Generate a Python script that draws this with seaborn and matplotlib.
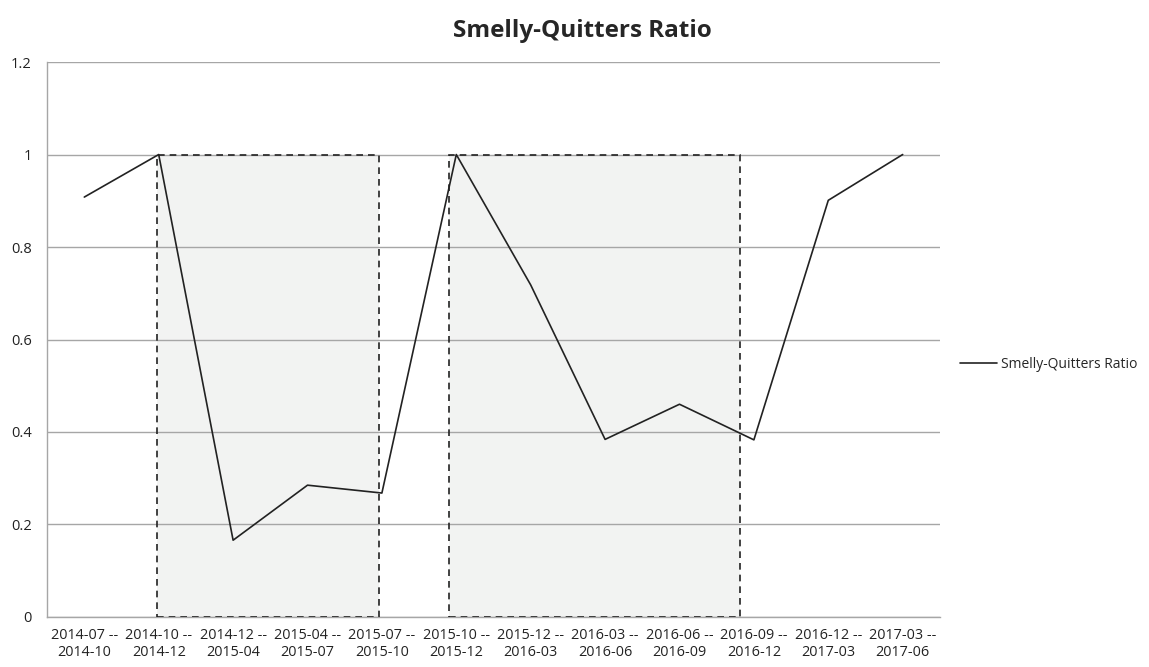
"""Smelly-Quitters ratio line chart."""

import matplotlib.pyplot as plt
import matplotlib.patches as mpatches
import numpy as np
import pandas as pd
import seaborn as sns

periods = [
    "2014-07 --\n2014-10", "2014-10 --\n2014-12", "2014-12 --\n2015-04",
    "2015-04 --\n2015-07", "2015-07 --\n2015-10", "2015-10 --\n2015-12",
    "2015-12 --\n2016-03", "2016-03 --\n2016-06", "2016-06 --\n2016-09",
    "2016-09 --\n2016-12", "2016-12 --\n2017-03", "2017-03 --\n2017-06",
]
ratio = [0.908, 1.0, 0.166, 0.285, 0.268, 1.0, 0.718, 0.384, 0.46, 0.383, 0.901, 1.0]
# highlighted windows, in category units
highlights = [(0.98, 3.96), (4.9, 8.82)]

sns.set_theme(style="white")
plt.rcParams["font.family"] = ["Open Sans", "DejaVu Sans"]

df = pd.DataFrame({"idx": np.arange(len(periods)), "ratio": ratio})

fig = plt.figure(figsize=(11.49, 6.67), dpi=100)
ax = fig.add_axes([0.041, 0.075, 0.777, 0.832])

for x0, x1 in highlights:
    # fill under the grid, dashed outline above it
    ax.add_patch(mpatches.Rectangle((x0, 0), x1 - x0, 1.0, facecolor="#f2f3f2",
                                    edgecolor="none", zorder=1))
    ax.add_patch(mpatches.Rectangle((x0, 0), x1 - x0, 1.0, facecolor="none",
                                    edgecolor="#222222", linestyle=(0, (4, 3)),
                                    linewidth=1.2, zorder=2.7))

sns.lineplot(data=df, x="idx", y="ratio", ax=ax, color="#222222", linewidth=1.2,
             label="Smelly-Quitters Ratio", zorder=3)

ax.set_xlim(-0.5, len(periods) - 0.5)
ax.set_ylim(0, 1.2)
ax.set_yticks(np.arange(0, 1.21, 0.2))
ax.set_yticklabels(["0", "0.2", "0.4", "0.6", "0.8", "1", "1.2"])
ax.set_xticks(df["idx"])
ax.set_xticklabels(periods)
ax.set_xticks(np.arange(-0.5, len(periods), 1), minor=True)
ax.tick_params(axis="x", which="major", length=0, labelsize=10.4, pad=8, colors="#222222")
ax.tick_params(axis="x", which="minor", length=5, color="#a6a6a6", width=1, direction="out")
ax.tick_params(axis="y", length=5, color="#a6a6a6", labelsize=10.5, colors="#222222", pad=6)
ax.yaxis.grid(True, color="#a6a6a6", linewidth=1)
ax.set_axisbelow(False)
for gl in ax.get_ygridlines():
    gl.set_zorder(2)
ax.set_xlabel("")
ax.set_ylabel("")
for s in ["top", "right"]:
    ax.spines[s].set_visible(False)
for s in ["left", "bottom"]:
    ax.spines[s].set_color("#a6a6a6")
    ax.spines[s].set_linewidth(1)
    ax.spines[s].set_zorder(2)

fig.suptitle("Smelly-Quitters Ratio", x=0.507, y=0.972, fontsize=17.5, fontweight="bold",
             va="top")

handles, labels = ax.get_legend_handles_labels()
ax.get_legend().remove()
fig.legend(handles, labels, loc="center left", bbox_to_anchor=(0.825, 0.453),
           frameon=False, fontsize=10, handlelength=2.6, handletextpad=0.3)

fig.savefig("out.png", dpi=100)
